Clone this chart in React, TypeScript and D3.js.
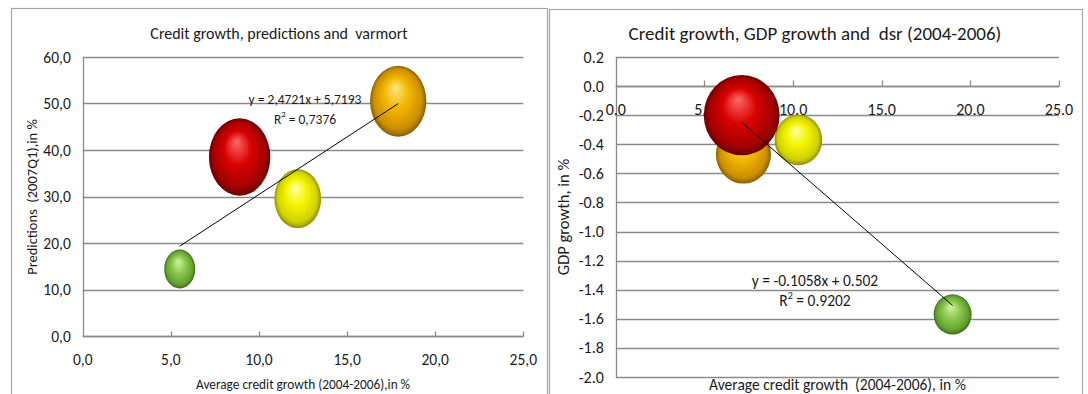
import { useEffect, useRef } from "react";
import * as d3 from "d3";

// bubble series (one per country, named by colour)
const bubbles = ["orange", "yellow", "red", "green"];

// left chart: credit growth vs predictions, bubble = varmort
const leftCredit = [17.9, 12.2, 8.9, 5.5];
const leftPred = [50.5, 29.5, 38.5, 14.4];
const leftSize = [84, 58, 100, 25.5];

// right chart: credit growth vs GDP growth, bubble = dsr
const rightCredit = [7.2, 10.3, 7.1, 19.0];
const rightGdp = [-0.47, -0.37, -0.2, -1.57];
const rightSize = [52.7, 39.5, 100, 25];

const leftXTicks = [0, 5, 10, 15, 20, 25];
const leftYTicks = [0, 10, 20, 30, 40, 50, 60];
const rightXTicks = [0, 5, 10, 15, 20, 25];
const rightYTicks = [0.2, 0, -0.2, -0.4, -0.6, -0.8, -1.0, -1.2, -1.4, -1.6, -1.8, -2.0];

const leftFit = { slope: 2.4721, icpt: 5.7193, r2: "0,7376", label: "y = 2,4721x + 5,7193" };
const rightFit = { slope: -0.1058, icpt: 0.502, r2: "0.9202", label: "y = -0.1058x + 0.502" };

const FONT = "Carlito, Calibri, Lato, sans-serif";
const GRID = "#8a8a8a";
const BORDER = "#a6a6a6";
const INK = "#1a1a1a";

const SHADES: Record<string, string[]> = {
  red: ["#ff6a6a", "#d80000", "#a30000", "#6a0000"],
  yellow: ["#ffffa8", "#f4f400", "#d0d000", "#8e8e00"],
  orange: ["#ffe680", "#f2b500", "#cc8f00", "#8a5e00"],
  green: ["#d2f5a0", "#8cc850", "#64a030", "#3d6b1a"],
};

interface ChartOpts {
  id: string;
  frame: [number, number, number, number];
  plot: { left: number; right: number; top: number; bottom: number };
  title: string;
  titleX: number;
  titleSize: number;
  xs: number[];
  ys: number[];
  sizes: number[];
  rMax: number;
  aspect: number;
  xTicks: number[];
  yTicks: number[];
  fmt: (v: number) => string;
  tickFont: number;
  xAxisAt: number;
  xLabelY: number;
  xTitle: string;
  xTitleY: number;
  xTitleSize: number;
  yTitle: string;
  yTitleX: number;
  yTitleY: number;
  yTitleSize: number;
  tickSize: number;
  fit: { slope: number; icpt: number; r2: string; label: string };
  fitX: number;
  fitY: number;
  fitSize: number;
}

function drawChart(svg: d3.Selection<SVGSVGElement, unknown, null, undefined>, o: ChartOpts) {
  const g = svg.append("g");
  const [fx0, fy0, fx1, fy1] = o.frame;
  g.append("rect")
    .attr("x", fx0 + 0.5)
    .attr("y", fy0 + 0.5)
    .attr("width", fx1 - fx0)
    .attr("height", fy1 - fy0)
    .attr("fill", "#fff")
    .attr("stroke", BORDER)
    .attr("stroke-width", 1.2);

  const x = d3.scaleLinear().domain([d3.min(o.xTicks)!, d3.max(o.xTicks)!]).range([o.plot.left, o.plot.right]);
  const y = d3.scaleLinear().domain([d3.min(o.yTicks)!, d3.max(o.yTicks)!]).range([o.plot.bottom, o.plot.top]);
  const r = d3.scaleSqrt().domain([0, 100]).range([0, o.rMax]);

  // title
  g.append("text")
    .attr("x", o.titleX)
    .attr("y", 33)
    .attr("text-anchor", "middle")
    .attr("dominant-baseline", "central")
    .attr("font-size", o.titleSize)
    .attr("fill", INK)
    .style("white-space", "pre")
    .text(o.title);

  // gridlines
  g.append("g")
    .selectAll("line")
    .data(o.yTicks)
    .join("line")
    .attr("x1", o.plot.left)
    .attr("x2", o.plot.right)
    .attr("y1", (d) => Math.round(y(d)) + 0.5)
    .attr("y2", (d) => Math.round(y(d)) + 0.5)
    .attr("stroke", GRID)
    .attr("stroke-width", 1.3);

  // y axis line
  g.append("line")
    .attr("x1", Math.round(o.plot.left) + 0.5)
    .attr("x2", Math.round(o.plot.left) + 0.5)
    .attr("y1", o.plot.top)
    .attr("y2", o.plot.bottom)
    .attr("stroke", GRID)
    .attr("stroke-width", 1.3);

  // x axis line + ticks
  const ax = Math.round(y(o.xAxisAt)) + 0.5;
  g.append("line")
    .attr("x1", o.plot.left)
    .attr("x2", o.plot.right)
    .attr("y1", ax)
    .attr("y2", ax)
    .attr("stroke", GRID)
    .attr("stroke-width", 1.3);
  g.append("g")
    .selectAll("line")
    .data(o.xTicks.slice(1))
    .join("line")
    .attr("x1", (d) => Math.round(x(d)) + 0.5)
    .attr("x2", (d) => Math.round(x(d)) + 0.5)
    .attr("y1", ax)
    .attr("y2", ax - o.tickSize)
    .attr("stroke", GRID)
    .attr("stroke-width", 1.3);

  // tick labels
  g.append("g")
    .selectAll("text")
    .data(o.xTicks)
    .join("text")
    .attr("x", (d) => x(d))
    .attr("y", o.xLabelY)
    .attr("text-anchor", "middle")
    .attr("dominant-baseline", "central")
    .attr("font-size", o.tickFont)
    .attr("fill", INK)
    .text((d) => o.fmt(d));
  g.append("g")
    .selectAll("text")
    .data(o.yTicks)
    .join("text")
    .attr("x", o.plot.left - 12)
    .attr("y", (d) => y(d))
    .attr("text-anchor", "end")
    .attr("dominant-baseline", "central")
    .attr("font-size", o.tickFont)
    .attr("fill", INK)
    .text((d) => o.fmt(d));

  // axis titles
  g.append("text")
    .attr("x", (o.plot.left + o.plot.right) / 2)
    .attr("y", o.xTitleY)
    .attr("text-anchor", "middle")
    .attr("dominant-baseline", "central")
    .attr("font-size", o.xTitleSize)
    .attr("fill", INK)
    .style("white-space", "pre")
    .text(o.xTitle);
  g.append("text")
    .attr("transform", `translate(${o.yTitleX},${o.yTitleY}) rotate(-90)`)
    .attr("text-anchor", "middle")
    .attr("dominant-baseline", "central")
    .attr("font-size", o.yTitleSize)
    .attr("fill", INK)
    .style("white-space", "pre")
    .text(o.yTitle);

  // bubble gradients
  const defs = g.append("defs");
  bubbles.forEach((c) => {
    const s = SHADES[c];
    const grad = defs
      .append("radialGradient")
      .attr("id", `${o.id}-${c}`)
      .attr("cx", "50%")
      .attr("cy", "50%")
      .attr("r", "50%")
      .attr("fx", "45%")
      .attr("fy", "30%");
    grad.append("stop").attr("offset", "0%").attr("stop-color", s[0]);
    grad.append("stop").attr("offset", "45%").attr("stop-color", s[1]);
    grad.append("stop").attr("offset", "85%").attr("stop-color", s[2]);
    grad.append("stop").attr("offset", "100%").attr("stop-color", s[3]);
  });

  g.append("g")
    .selectAll("ellipse")
    .data(bubbles)
    .join("ellipse")
    .attr("cx", (_, i) => x(o.xs[i]))
    .attr("cy", (_, i) => y(o.ys[i]))
    .attr("rx", (_, i) => r(o.sizes[i]))
    .attr("ry", (_, i) => r(o.sizes[i]) * o.aspect)
    .attr("fill", (c) => `url(#${o.id}-${c})`);

  // linear trend line across the data range
  const [xmin, xmax] = d3.extent(o.xs) as [number, number];
  const trend = d3
    .line<number>()
    .x((d) => x(d))
    .y((d) => y(o.fit.slope * d + o.fit.icpt));
  g.append("path")
    .datum([xmin, xmax])
    .attr("d", trend)
    .attr("fill", "none")
    .attr("stroke", "#000")
    .attr("stroke-width", 1);

  g.append("text")
    .attr("x", o.fitX)
    .attr("y", o.fitY)
    .attr("text-anchor", "middle")
    .attr("dominant-baseline", "central")
    .attr("font-size", o.fitSize)
    .attr("fill", INK)
    .text(o.fit.label);
  const r2 = g
    .append("text")
    .attr("x", o.fitX)
    .attr("y", o.fitY + 20)
    .attr("text-anchor", "middle")
    .attr("dominant-baseline", "central")
    .attr("font-size", o.fitSize)
    .attr("fill", INK);
  r2.append("tspan").text("R");
  r2.append("tspan").attr("font-size", o.fitSize * 0.65).attr("dy", -5).text("2");
  r2.append("tspan").attr("dy", 5).text(` = ${o.fit.r2}`);
}

export default function App() {
  const ref = useRef<SVGSVGElement>(null);

  useEffect(() => {
    if (!ref.current) return;
    const svg = d3.select(ref.current);
    svg.selectAll("*").remove();
    svg.attr("font-family", FONT);

    drawChart(svg, {
      id: "l",
      frame: [11, 8, 547, 400],
      plot: { left: 82.8, right: 523.3, top: 57, bottom: 336 },
      title: "Credit growth, predictions and  varmort",
      titleX: 279,
      titleSize: 16,
      xs: leftCredit,
      ys: leftPred,
      sizes: leftSize,
      rMax: 30.7,
      aspect: 1.26,
      xTicks: leftXTicks,
      yTicks: leftYTicks,
      fmt: (v) => d3.format(".1f")(v).replace(".", ","),
      tickFont: 15.5,
      xAxisAt: 0,
      xLabelY: 359,
      xTitle: "Average credit growth (2004-2006),in %",
      xTitleY: 384,
      xTitleSize: 13.3,
      yTitle: "Predictions  (2007Q1),in %",
      yTitleX: 32,
      yTitleY: 197,
      yTitleSize: 14.5,
      tickSize: 5,
      fit: leftFit,
      fitX: 305,
      fitY: 99,
      fitSize: 13.5,
    });

    drawChart(svg, {
      id: "r",
      frame: [549, 9, 1082, 400],
      plot: { left: 615.8, right: 1059, top: 57, bottom: 377 },
      title: "Credit growth, GDP growth and  dsr (2004-2006)",
      titleX: 815,
      titleSize: 19,
      xs: rightCredit,
      ys: rightGdp,
      sizes: rightSize,
      rMax: 37.9,
      aspect: 1.06,
      xTicks: rightXTicks,
      yTicks: rightYTicks,
      fmt: (v) => d3.format(".1f")(v).replace("−", "-"),
      tickFont: 16,
      xAxisAt: 0,
      xLabelY: 109,
      xTitle: "Average credit growth  (2004-2006), in %",
      xTitleY: 384.5,
      xTitleSize: 15.5,
      yTitle: "GDP growth, in %",
      yTitleX: 563,
      yTitleY: 217,
      yTitleSize: 16.5,
      tickSize: 6,
      fit: rightFit,
      fitX: 815,
      fitY: 280,
      fitSize: 15.5,
    });
  }, []);

  return (
    <svg
      ref={ref}
      width={1088}
      height={394}
      style={{ position: "absolute", left: 0, top: 0, background: "#fff", display: "block" }}
    />
  );
}
